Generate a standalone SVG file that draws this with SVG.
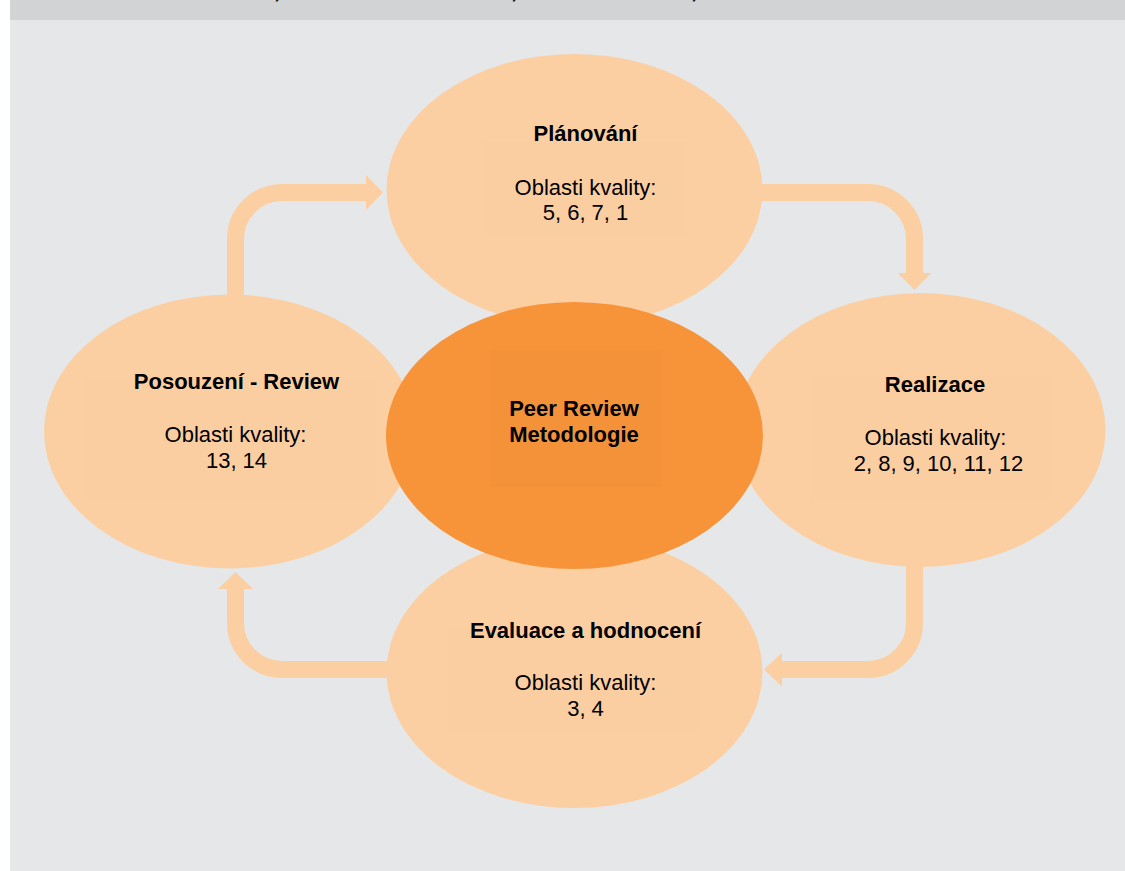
<svg xmlns="http://www.w3.org/2000/svg" width="1125" height="871" viewBox="0 0 1125 871">
<style>
.bg{fill:#e6e7e8}
.hdr{fill:#d1d3d4}
.light{fill:#fccfa3}
.dark{fill:#f7943a}
.tbox{fill:#f9cba0;opacity:0.35}
.tboxd{fill:#f0903a;opacity:0.3}
.conn{fill:none;stroke:#fccfa3;stroke-width:17}
.head{fill:#fccfa3}
text{font-family:"Liberation Sans",Arial,Helvetica,sans-serif;font-size:22px;fill:#000;text-anchor:middle}
.b{font-weight:bold}
</style>
<rect x="0" y="0" width="1125" height="871" fill="#ffffff"/>
<rect class="bg" x="10" y="20" width="1115" height="851"/>
<rect class="hdr" x="10" y="0" width="1115" height="20"/>
<g id="header-fragments">
<text class="b" x="277" y="-2">,</text>
<text class="b" x="514" y="-2">,</text>
<text class="b" x="694" y="-2">,</text>
</g>
<g id="connectors">
<path class="conn" d="M235.5,305 V239 A46.5,46.5 0 0 1 282,192.5 H367"/>
<polygon class="head" points="366,175 383,192.5 366,210"/>
<path class="conn" d="M750,192.5 H868 A46.5,46.5 0 0 1 914.5,239 V274"/>
<polygon class="head" points="897.5,273 931.5,273 914.5,290"/>
<path class="conn" d="M914.5,555 V623 A46.5,46.5 0 0 1 868,669.5 H781"/>
<polygon class="head" points="782,652.5 782,686.5 764,669.5"/>
<path class="conn" d="M400,669.5 H282 A46.5,46.5 0 0 1 235.5,623 V588"/>
<polygon class="head" points="218,589 253,589 235.5,572"/>
</g>
<g id="node-planovani">
<ellipse class="light" cx="574.5" cy="190" rx="188" ry="136"/>
<rect class="tbox" x="482" y="142" width="205" height="93"/>
<text class="b" x="585.5" y="141">Plánování</text>
<text x="585.5" y="195">Oblasti kvality:</text>
<text x="585.5" y="220">5, 6, 7, 1</text>
</g>
<g id="node-realizace">
<ellipse class="light" cx="920.5" cy="430" rx="185" ry="137"/>
<rect class="tbox" x="809" y="375" width="244" height="127"/>
<text class="b" x="935" y="392">Realizace</text>
<text x="935.5" y="445">Oblasti kvality:</text>
<text x="938.5" y="471">2, 8, 9, 10, 11, 12</text>
</g>
<g id="node-evaluace">
<ellipse class="light" cx="574.5" cy="672" rx="188" ry="136"/>
<rect class="tbox" x="448" y="628" width="252" height="104"/>
<text class="b" x="585.5" y="638">Evaluace a hodnocení</text>
<text x="585.5" y="690">Oblasti kvality:</text>
<text x="585.5" y="716">3, 4</text>
</g>
<g id="node-posouzeni">
<ellipse class="light" cx="229.5" cy="431.5" rx="185.5" ry="137"/>
<rect class="tbox" x="84" y="377" width="293" height="123"/>
<text class="b" x="236.5" y="389">Posouzení - Review</text>
<text x="235.5" y="442">Oblasti kvality:</text>
<text x="236.5" y="468">13, 14</text>
</g>
<g id="node-center">
<ellipse class="dark" cx="574.5" cy="435.5" rx="188.5" ry="133.5"/>
<rect class="tboxd" x="490" y="350" width="172" height="137"/>
<text class="b" x="574" y="416">Peer Review</text>
<text class="b" x="574" y="442">Metodologie</text>
</g>
</svg>
